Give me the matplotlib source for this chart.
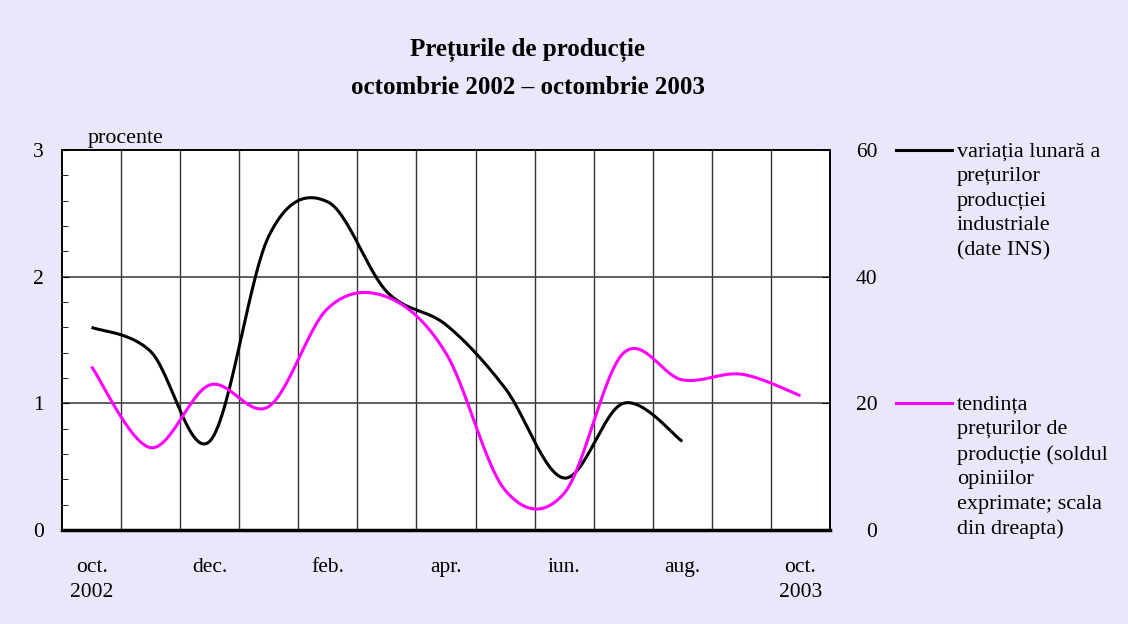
import numpy as np
import matplotlib
matplotlib.use("Agg")
import matplotlib.pyplot as plt
from matplotlib.ticker import MultipleLocator

months = ["oct.\n2002", "nov.", "dec.", "ian.", "feb.", "mar.", "apr.", "mai", "iun.", "iul.", "aug.", "sep.", "oct.\n2003"]
shown_labels = ["oct.\n2002", "", "dec.", "", "feb.", "", "apr.", "", "iun.", "", "aug.", "", "oct.\n2003"]
variatia = [1.60, 1.41, 0.70, 2.32, 2.59, 1.88, 1.62, 1.12, 0.41, 1.00, 0.70]
tendinta = [25.8, 13.0, 22.9, 19.5, 35.0, 36.8, 27.9, 6.3, 5.8, 27.9, 23.7, 24.6, 21.2]

BG = "#e8e8fa"
plt.rcParams["font.family"] = ["Liberation Serif", "DejaVu Serif"]


def smooth(x, y, n=30):
    x = np.asarray(x, float)
    y = np.asarray(y, float)
    px = np.concatenate([[x[0]], x, [x[-1]]])
    py = np.concatenate([[y[0]], y, [y[-1]]])
    xs, ys = [], []
    for i in range(1, len(px) - 2):
        p0 = np.array([px[i - 1], py[i - 1]])
        p1 = np.array([px[i], py[i]])
        p2 = np.array([px[i + 1], py[i + 1]])
        p3 = np.array([px[i + 2], py[i + 2]])
        c1 = p1 + (p2 - p0) / 6
        c2 = p2 - (p3 - p1) / 6
        t = np.linspace(0, 1, n)[:, None]
        b = (1 - t) ** 3 * p1 + 3 * (1 - t) ** 2 * t * c1 + 3 * (1 - t) * t ** 2 * c2 + t ** 3 * p2
        xs.append(b[:, 0])
        ys.append(b[:, 1])
    return np.concatenate(xs), np.concatenate(ys)


fig = plt.figure(figsize=(11.28, 6.24), dpi=100)
fig.patch.set_facecolor(BG)
ax = fig.add_axes([62 / 1128, 1 - 530 / 624, 768 / 1128, 380 / 624])
ax.set_facecolor("white")
ax2 = ax.twinx()

n = len(months)
x_all = np.arange(n)
ax.set_xlim(-0.5, n - 0.5)
ax.set_ylim(0, 3)
ax2.set_ylim(0, 60)

# grid
for xb in np.arange(0.5, n - 0.5, 1):
    ax.axvline(xb, color="#333333", lw=1.0, zorder=1)
for yv in [1, 2]:
    ax.axhline(yv, color="#444444", lw=1.2, zorder=1)

bx, by = smooth(x_all[:len(variatia)], variatia)
ax.plot(bx, by, color="black", lw=2.2, zorder=3, solid_capstyle="butt")
mx, my = smooth(x_all, tendinta)
ax2.plot(mx, my, color="#ff00ff", lw=2.2, zorder=3, solid_capstyle="butt")

ax.set_yticks([0, 1, 2, 3])
ax.yaxis.set_minor_locator(MultipleLocator(0.2))
ax.tick_params(axis="y", which="both", direction="in", length=4, labelsize=15.5, pad=13)
ax.tick_params(axis="y", which="major", length=5)
ax.set_xticks(x_all)
ax.set_xticklabels(shown_labels, fontsize=15.5, linespacing=1.43)
ax.tick_params(axis="x", length=0, pad=20)

ax2.set_yticks([0, 20, 40, 60])
ax2.tick_params(axis="y", direction="in", length=6, labelsize=15.5, pad=34)
for lab in ax2.get_yticklabels():
    lab.set_horizontalalignment("right")

for a in (ax, ax2):
    for s in a.spines.values():
        s.set_color("black")
        s.set_linewidth(1.2)
ax.spines["bottom"].set_linewidth(2.5)

fig.text(528 / 1128, 1 - 50 / 624, "Prețurile de producție", ha="center", va="center",
         fontsize=18, fontweight="bold")
fig.text(528 / 1128, 1 - 87 / 624, "octombrie 2002 – octombrie 2003", ha="center", va="center",
         fontsize=18, fontweight="bold")
fig.text(88 / 1128, 1 - 138 / 624, "procente", ha="left", va="center", fontsize=15.8)

# legend
lx0, lx1, tx = 896 / 1128, 952 / 1128, 957 / 1128
y1 = 1 - 150 / 624
y2 = 1 - 403 / 624
fig.add_artist(plt.Line2D([lx0, lx1], [y1, y1], color="black", lw=2.2, transform=fig.transFigure))
fig.add_artist(plt.Line2D([lx0, lx1], [y2, y2], color="#ff00ff", lw=2.2, transform=fig.transFigure))
fig.text(tx, y1 + 7 / 624, "variația lunară a\nprețurilor\nproducției\nindustriale\n(date INS)",
         ha="left", va="top", fontsize=16, linespacing=1.39)
fig.text(tx, y2 + 7 / 624, "tendința\nprețurilor de\nproducție (soldul\nopiniilor\nexprimate; scala\ndin dreapta)",
         ha="left", va="top", fontsize=16, linespacing=1.39)

fig.savefig("out.png", dpi=100, facecolor=BG)
